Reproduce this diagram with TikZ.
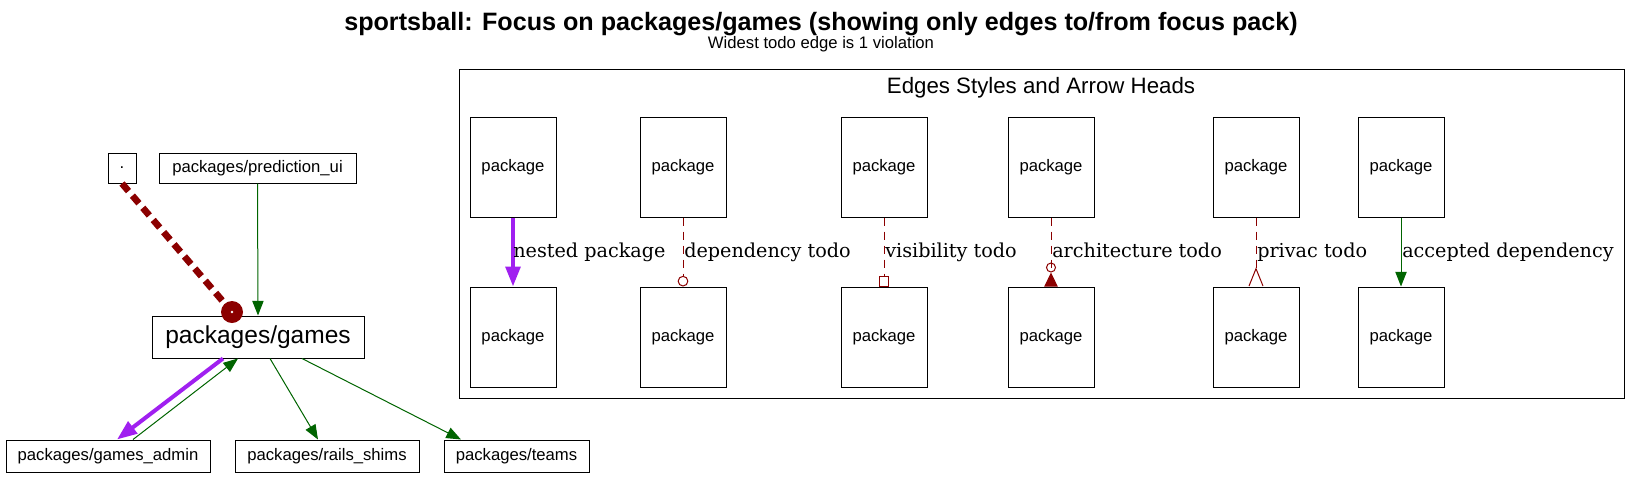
\documentclass[tikz,border=0pt]{standalone}
\usepackage{fontspec}
\setmainfont{Liberation Sans}
\newfontfamily\labelfont{DejaVu Serif}
\usetikzlibrary{arrows.meta,calc}
\definecolor{todored}{HTML}{8B0000}
\definecolor{nestpurple}{HTML}{A020F0}
\definecolor{okgreen}{HTML}{006400}
\tikzset{
  pack/.style={draw, line width=0.75pt, inner sep=0pt, font=\fontsize{12.5}{14}\selectfont},
  legpack/.style={pack, minimum width=64.5pt, minimum height=75pt},
  accepted/.style={okgreen, line width=0.75pt, -{Triangle[length=11pt,width=8.5pt]}},
  nested/.style={nestpurple, line width=3pt, -{Triangle[length=15pt,width=11pt]}},
  todo/.style={todored, line width=0.75pt, dash pattern=on 6pt off 4.5pt},
  elabel/.style={anchor=base west, inner sep=0pt, font=\labelfont\fontsize{14.4}{16}\selectfont},
}

\begin{document}
\begin{tikzpicture}[x=0.75pt, y=-0.75pt]
\useasboundingbox (0,0) rectangle (1642,476);
\node[anchor=base, font=\bfseries\fontsize{18.85}{22}\selectfont] (title) at (821,30) {sportsball: Focus on packages/games (showing only edges to/from focus pack)};
\node[anchor=base, font=\fontsize{12.5}{14}\selectfont] (subtitle) at (821,48) {Widest todo edge is 1 violation};

% focus graph
\node[pack, minimum width=21pt, minimum height=22.5pt] (root) at (122,168) {.};
\node[pack, minimum width=147.75pt, minimum height=22.5pt] (predui) at (257.5,168) {packages/prediction\_ui};
\node[pack, minimum width=159pt, minimum height=31.5pt, font=\fontsize{18.4}{20}\selectfont] (games) at (258,337) {packages/games};
\node[pack, minimum width=153pt, minimum height=24pt] (admin) at (108,456) {packages/games\_admin};
\node[pack, minimum width=138pt, minimum height=24pt] (shims) at (327,456) {packages/rails\_shims};
\node[pack, minimum width=108.75pt, minimum height=24pt] (teams) at (516.5,456) {packages/teams};
\coordinate (rootend) at (232,312);

\draw[todored, line width=5pt, dash pattern=on 7.5pt off 4.5pt] (root.south) -- (rootend);
\fill[todored] (rootend) circle (8.25pt);
\fill[white] (rootend) circle (1.1pt);
\draw[accepted] (predui.south) -- (games.north);
\draw[nested] ($(games.south)+(-35,0)$) -- ($(admin.north)+(9,0)$);
\draw[accepted] ($(admin.north)+(25,0)$) -- ($(games.south)+(-20,0)$);
\draw[accepted] ($(games.south)+(12,0)$) -- ($(shims.north)+(-9,0)$);
\draw[accepted] ($(games.south)+(44,0)$) -- ($(teams.north)+(-55.5,0)$);

% legend
\draw[line width=0.75pt] (459,69) rectangle (1624,398);
\node[anchor=base, font=\fontsize{16.7}{19}\selectfont] (legtitle) at (1041,93) {Edges Styles and Arrow Heads};
\foreach \i/\x in {1/513, 2/683, 3/884, 4/1051, 5/1256, 6/1401} {
  \node[legpack] (u\i) at (\x,167) {package};
  \node[legpack] (l\i) at (\x,337) {package};
}
\draw[nested] (u1.south) -- (l1.north);
\draw[todo, -{Circle[open,length=8pt]}] (u2.south) -- (l2.north);
\draw[todo, -{Square[open,length=8pt]}] (u3.south) -- (l3.north);
\draw[todo, -{Circle[open,length=7.5pt] Triangle[reversed,length=10.5pt,width=10pt]}] (u4.south) -- (l4.north);
\draw[todo, -{Straight Barb[reversed,length=13pt,width=10.5pt]}] (u5.south) -- (l5.north);
\draw[accepted] (u6.south) -- (l6.north);

\node[elabel] (lab1) at (513,257) {nested package};
\node[elabel] (lab2) at (684,257) {dependency todo};
\node[elabel] (lab3) at (885,257) {visibility todo};
\node[elabel] (lab4) at (1052,257) {architecture todo};
\node[elabel] (lab5) at (1257,257) {privac todo};
\node[elabel] (lab6) at (1402,257) {accepted dependency};
\end{tikzpicture}
\end{document}
